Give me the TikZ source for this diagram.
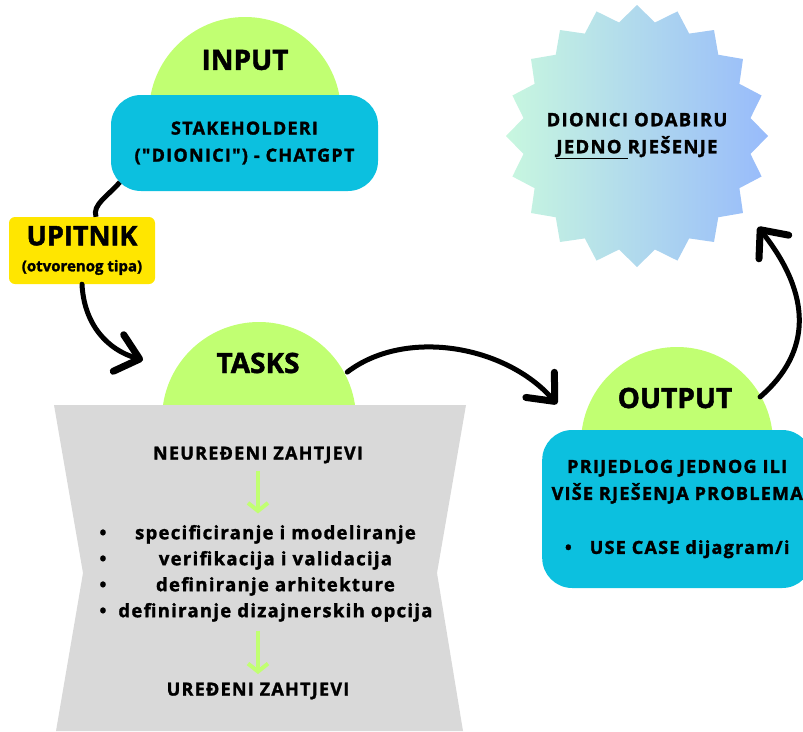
\documentclass[tikz,border=0pt]{standalone}
\usepackage{fontspec}
\setmainfont{Open Sans}[BoldFeatures={FakeBold=1.6}]
\newfontfamily\spaced{Open Sans}[LetterSpace=7, BoldFeatures={FakeBold=1.6}]
\usetikzlibrary{arrows.meta,shapes.geometric}

\definecolor{domegreen}{HTML}{C1FF72}
\definecolor{boxblue}{HTML}{0CC0DF}
\definecolor{noteyellow}{HTML}{FFE600}
\definecolor{boxgrey}{HTML}{D9D9D9}
\definecolor{starmint}{HTML}{C8F7DF}
\definecolor{starsky}{HTML}{98BBFB}

\begin{document}
\begin{tikzpicture}[x=1pt,y=1pt,
  title/.style={font=\fontsize{28}{32}\selectfont\bfseries},
  txt/.style={font=\spaced\fontsize{18}{27}\selectfont\bfseries, align=center},
  bluebox/.style={fill=boxblue, rounded corners=30pt, txt},
  bigarrow/.style={line width=5pt, line cap=round,
    -{Straight Barb[length=22pt,width=38pt,line width=7pt,round]}},
  steparrow/.style={domegreen, line width=4pt,
    -{Straight Barb[length=8pt,width=20pt,line width=4pt]}}]
\useasboundingbox (0,0) rectangle (803,-731);

% domes
\coordinate (inc) at (245,-113);
\coordinate (tasksc) at (259,-419);
\coordinate (outc) at (677,-443);
\fill[domegreen] ([xshift=-96pt]inc) arc[start angle=180,end angle=0,radius=96] -- cycle;
\fill[domegreen] ([xshift=-97pt]tasksc) arc[start angle=180,end angle=0,radius=97] -- cycle;
\fill[domegreen] ([xshift=-96pt]outc) arc[start angle=180,end angle=0,radius=96] -- cycle;
\node[title] (input) at (245,-60) {INPUT};
\node[title] (tasks) at (258,-363) {TASKS};
\node[title] (output) at (675,-398) {OUTPUT};

% input
\node[bluebox, minimum width=267, minimum height=96] (stake) at (244.5,-143)
  {STAKEHOLDERI\\(\symbol{34}DIONICI\symbol{34}) - CHATGPT};
\node[fill=noteyellow, rounded corners=6pt, minimum width=146, minimum height=67,
  align=center, font=\fontsize{27}{26}\selectfont\bfseries] (upitnik) at (82,-250.5)
  {UPITNIK\\{\fontsize{15}{16}\selectfont (otvorenog tipa)}};

% tasks
\fill[boxgrey] (54,-405) -- (466,-405) -- (437,-573) -- (463,-731) -- (56,-731) -- (83,-573) -- cycle;
\node[txt] (unord) at (258,-455) {NEUREĐENI ZAHTJEVI};
\node[font=\spaced\fontsize{18.5}{26}\selectfont\bfseries] (steps) at (266,-573) {%
  \begin{tabular}{@{}l@{\hspace{12pt}}c@{}}
  \textbullet & specificiranje i modeliranje\\
  \textbullet & verifikacija i validacija\\
  \textbullet & definiranje arhitekture\\
  \textbullet & definiranje dizajnerskih opcija
  \end{tabular}};
\node[txt] (ord) at (258,-691) {UREĐENI ZAHTJEVI};
\draw[steparrow, shorten <=4pt, shorten >=4pt] (unord.south) -- (unord.south |- steps.north);
\draw[steparrow, shorten <=2pt, shorten >=5pt] (ord.north |- steps.south) -- (ord.north);

% output
\node[bluebox, minimum width=270, minimum height=158, anchor=west] (result) at (542,-509)
  {PRIJEDLOG JEDNOG ILI\\VIŠE RJEŠENJA PROBLEMA\\[27pt]\textbullet\hspace{18pt}USE CASE dijagram/i};

% choice
\node[star, star points=20, star point ratio=1.14, minimum size=262, inner sep=0,
  left color=starmint, right color=starsky] (star) at (637,-136) {};
\node[txt, font=\spaced\fontsize{18.5}{27}\selectfont\bfseries] (pick) at (star)
  {DIONICI ODABIRU\\\underline{JEDNO\ }RJEŠENJE};

% connectors
\coordinate (stake-out) at ([shift={(9,9)}]stake.south west);
\coordinate (tasks-in) at (143,-360);
\coordinate (tasks-out) at ([shift={(28:100)}]tasksc);
\coordinate (output-in) at (557,-404);
\coordinate (output-out) at ([shift={(29:95)}]outc);
\coordinate (star-in) at (758,-227);
\draw[line width=5pt] (stake-out) .. controls +(-12,-14) and +(-4,12) .. ([xshift=14pt]upitnik.north);
\draw[bigarrow] (upitnik.south) .. controls (84,-325) and (108,-350) .. (tasks-in);
\draw[bigarrow] (tasks-out) .. controls (405,-328) and (505,-345) .. (output-in);
\draw[bigarrow] (output-out) .. controls (812,-352) and (812,-295) .. (star-in);
\end{tikzpicture}
\end{document}
